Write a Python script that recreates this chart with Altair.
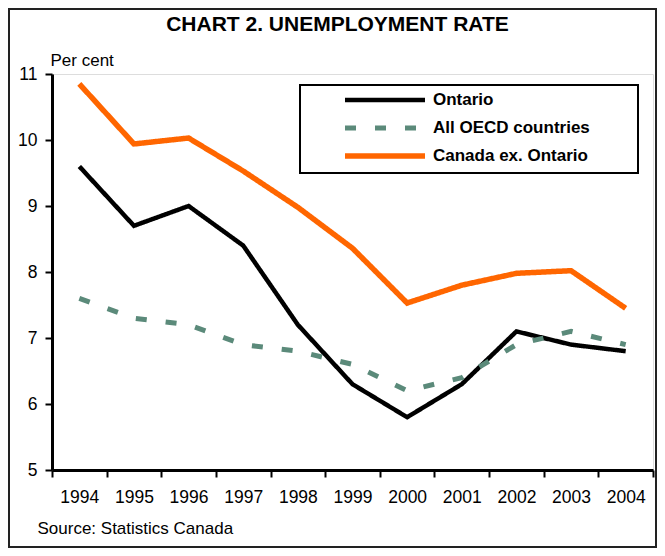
import altair as alt
import pandas as pd

years = [str(y) for y in range(1994, 2005)]
ontario = [9.6, 8.7, 9.0, 8.4, 7.2, 6.3, 5.8, 6.3, 7.1, 6.9, 6.8]
oecd = [7.6, 7.3, 7.2, 6.9, 6.8, 6.6, 6.2, 6.4, 6.9, 7.1, 6.9]
canada_ex = [10.85, 9.94, 10.03, 9.53, 8.98, 8.36, 7.53, 7.8, 7.98, 8.02, 7.45]
series = ["Ontario", "All OECD countries", "Canada ex. Ontario"]
colors = ["#000000", "#5B8A7A", "#FF6600"]

rows = []
for name, vals in zip(series, [ontario, oecd, canada_ex]):
    for y, v in zip(years, vals):
        rows.append({"year": y, "rate": v, "series": name})
df = pd.DataFrame(rows)

FONT = "Liberation Sans"
W, H = 601, 396
PL, PT, PR, PB = 44, 66, 4, 78

legend_props = dict(
    title=None, orient="none", legendX=290, legendY=12,
    padding=0, symbolType="stroke", symbolSize=6400,
    symbolStrokeWidth=4.5, labelFontSize=17, labelFontWeight="bold",
    labelFont=FONT, labelColor="black", labelOffset=5,
    clipHeight=28, rowPadding=0,
)

lines = alt.Chart(df).mark_line(strokeCap="butt", strokeJoin="miter").encode(
    x=alt.X(
        "year:O",
        bandPosition=0.5,
        scale=alt.Scale(type="band", paddingInner=0, paddingOuter=0),
        axis=alt.Axis(
            title="Source: Statistics Canada",
            titleX=-15, titleY=63, titleAlign="left", titleAnchor="start",
            titleBaseline="alphabetic", titleFontSize=17, titleFontWeight="normal",
            titleFont=FONT, titleColor="black",
            labelAngle=0, tickBand="extent", tickSize=7, tickWidth=2,
            tickColor="black", labelPadding=11, labelFontSize=17.5,
            labelFont=FONT, labelColor="black", domainColor="black",
            domainWidth=3, grid=False,
        ),
    ),
    y=alt.Y(
        "rate:Q",
        scale=alt.Scale(domain=[5, 11], nice=False, zero=False),
        axis=alt.Axis(
            values=[5, 6, 7, 8, 9, 10, 11],
            title="Per cent", titleAngle=0, titleAlign="left", titleX=-2,
            titleY=-9, titleBaseline="alphabetic", titleFontSize=17,
            titleFontWeight="normal", titleFont=FONT, titleColor="black",
            tickSize=7, tickWidth=2, tickColor="black", labelPadding=8,
            labelFontSize=17.5, labelFont=FONT, labelColor="black",
            domainColor="black", domainWidth=3, grid=False,
        ),
    ),
    color=alt.Color(
        "series:N",
        scale=alt.Scale(domain=series, range=colors),
        legend=alt.Legend(**legend_props),
    ),
    strokeDash=alt.StrokeDash(
        "series:N",
        scale=alt.Scale(domain=series, range=[[1, 0], [11, 19], [1, 0]]),
        legend=alt.Legend(**legend_props),
    ),
    strokeWidth=alt.StrokeWidth(
        "series:N",
        scale=alt.Scale(domain=series, range=[4.5, 5.5, 4]),
        legend=None,
    ),
)

one = pd.DataFrame({"a": [0]})

legend_box = alt.Chart(one).mark_rect(fill="transparent", stroke="black", strokeWidth=2).encode(
    x=alt.value(248), x2=alt.value(586), y=alt.value(11), y2=alt.value(99)
)

outer_box = alt.Chart(one).mark_rect(fill="transparent", stroke="#222222", strokeWidth=2).encode(
    x=alt.value(-PL + 1), x2=alt.value(W + PR - 1), y=alt.value(-PT + 1), y2=alt.value(H + PB - 1)
)

chart = alt.layer(outer_box, legend_box, lines).properties(
    width=W,
    height=H,
    padding={"left": PL, "top": PT, "right": PR, "bottom": PB},
    autosize="none",
    title=alt.Title(
        "CHART 2. UNEMPLOYMENT RATE", fontSize=21, fontWeight="bold",
        font=FONT, color="black", anchor="middle", dx=-15, offset=-44,
        baseline="alphabetic",
    ),
).configure_view(stroke="black", strokeWidth=3).configure(background="white")

chart.save("out.html", embed_options={"renderer": "svg", "actions": False})
